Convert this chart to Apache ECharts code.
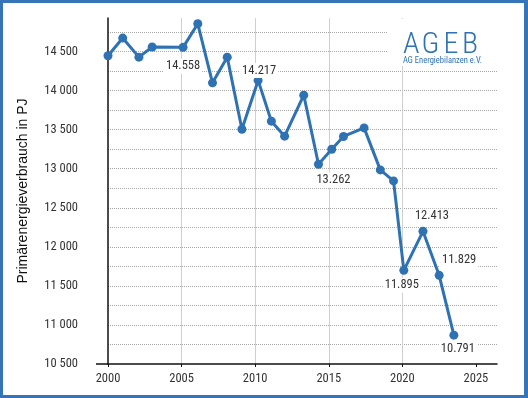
<!DOCTYPE html>
<html>
<head>
<meta charset="utf-8">
<script src="https://cdn.jsdelivr.net/npm/echarts@6/dist/echarts.min.js"></script>
<style>
  html, body { margin: 0; padding: 0; background: #fff; }
  #wrap { position: relative; width: 528px; height: 398px; }
  #chart { position: absolute; left: 0; top: 0; width: 528px; height: 398px; }
  #frame { position: absolute; left: 0; top: 0; width: 528px; height: 398px; box-sizing: border-box;
           border: 3px solid #3574b6; border-right-width: 4px; pointer-events: none; }
</style>
</head>
<body>
<div id="wrap"><div id="chart"></div><div id="frame"></div></div>
<script>
// Primärenergieverbrauch in Deutschland (PJ)
var years = [2000, 2001, 2002.1, 2003, 2005.1, 2006.1, 2007.1, 2008.1, 2009.1, 2010.2, 2011.1, 2012,
  2013.3, 2014.3, 2015.2, 2016, 2017.4, 2018.5, 2019.4, 2020.1, 2021.4, 2022.5, 2023.5]
var values = [14446, 14673, 14429, 14558, 14554, 14856, 14100, 14429, 13506, 14131, 13609, 13417,
  13942, 13058, 13250, 13413, 13523, 12985, 12844, 11699, 12199, 11635, 10869]
var pointLabels = ['', '', '', '', '14.558', '', '', '', '', '14.217', '', '',
  '', '13.262', '', '', '', '', '', '11.895', '12.413', '11.829', '10.791']
var xTicks = [2000, 2005, 2010, 2015, 2020, 2025]
var yMin = 10500
var yMax = 14930

// where each value label sits relative to its point
var labelOffsets = {4: [0, 19], 9: [1, -10], 13: [15, 16], 19: [-2, 15], 20: [9, -15], 21: [20, -15], 22: [4, 14]}

var blue = '#2e72b3'
var narrow = "'Roboto Condensed', 'Liberation Sans Narrow', 'Arial Narrow', 'DejaVu Sans Condensed', Roboto, sans-serif"
var logoFont = "300 30px 'Roboto Condensed', Roboto, sans-serif"

var chart = echarts.init(document.getElementById('chart'), null, {renderer: 'canvas'})

var seriesData = values.map(function (v, i) {
  var item = {value: [years[i], v]}
  if (pointLabels[i]) {
    item.label = {
      show: true,
      formatter: pointLabels[i],
      position: 'inside',
      align: 'center',
      verticalAlign: 'middle',
      offset: labelOffsets[i],
      color: '#333',
      fontFamily: narrow,
      fontSize: 12.5,
      backgroundColor: '#fff',
      padding: [1, 2]
    }
  }
  return item
})

chart.setOption({
  animation: false,
  backgroundColor: '#fff',
  grid: {left: 108, right: 31, top: 18, bottom: 34},
  xAxis: {
    type: 'value',
    min: xTicks[0],
    max: 2026.43,
    interval: 5,
    axisLine: {lineStyle: {color: '#111', width: 1.5}},
    axisTick: {show: true, length: 3, lineStyle: {color: '#111'}},
    axisLabel: {
      margin: 8,
      color: '#333',
      fontFamily: narrow,
      fontSize: 12.5,
      showMaxLabel: false,
      formatter: function (v) { return xTicks.indexOf(v) >= 0 ? String(v) : '' }
    },
    splitLine: {
      show: true,
      showMinLine: false,
      showMaxLine: false,
      lineStyle: {color: ['#cfcfcf', '#cfcfcf', '#cfcfcf', '#cfcfcf', 'rgba(0,0,0,0)'], width: 1}
    }
  },
  yAxis: {
    type: 'value',
    min: yMin,
    max: yMax,
    interval: 250,
    name: 'Primärenergieverbrauch in PJ',
    nameLocation: 'middle',
    nameGap: 78,
    nameTextStyle: {color: '#111', fontFamily: "'Liberation Sans', Arial, sans-serif", fontSize: 14},
    axisLine: {show: true, lineStyle: {color: '#111', width: 1.5}},
    axisTick: {show: false},
    axisLabel: {
      margin: 20,
      padding: [0, 10, 0, 0],
      color: '#333',
      fontFamily: narrow,
      fontSize: 12.5,
      showMaxLabel: false,
      formatter: function (v) {
        if (v % 500 !== 0) return ''
        return String(v).replace(/\B(?=(\d{3})+$)/g, ' ')
      }
    },
    splitLine: {
      show: true,
      showMinLine: false,
      showMaxLine: false,
      lineStyle: {color: '#a8a8a8', type: [1, 1], width: 1}
    }
  },
  graphic: [
    {type: 'rect', z: 1, shape: {x: 387, y: 19, width: 112, height: 47}, style: {fill: '#fff'}},
    {type: 'text', z: 1, x: 403, y: 45.5, style: {text: 'A', fill: blue, font: logoFont, align: 'left', verticalAlign: 'middle'}},
    {type: 'text', z: 1, x: 421.5, y: 45.5, style: {text: 'G', fill: blue, font: logoFont, align: 'left', verticalAlign: 'middle'}},
    {type: 'text', z: 1, x: 443.5, y: 45.5, style: {text: 'E', fill: blue, font: logoFont, align: 'left', verticalAlign: 'middle'}},
    {type: 'text', z: 1, x: 462, y: 45.5, style: {text: 'B', fill: blue, font: logoFont, align: 'left', verticalAlign: 'middle'}},
    {type: 'text', z: 1, x: 403, y: 56, style: {text: 'AG Energiebilanzen e.V.', fill: blue, font: "8.5px 'Roboto Condensed', Roboto, sans-serif"}},
    {type: 'line', z: 1, shape: {x1: 96, y1: 364, x2: 108, y2: 364}, style: {stroke: '#111', lineWidth: 1.5}}
  ],
  series: [{
    type: 'line',
    data: seriesData,
    symbol: 'circle',
    symbolSize: 9,
    color: blue,
    lineStyle: {color: blue, width: 3},
    itemStyle: {color: blue},
    label: {show: false}
  }]
})
</script>
</body>
</html>
